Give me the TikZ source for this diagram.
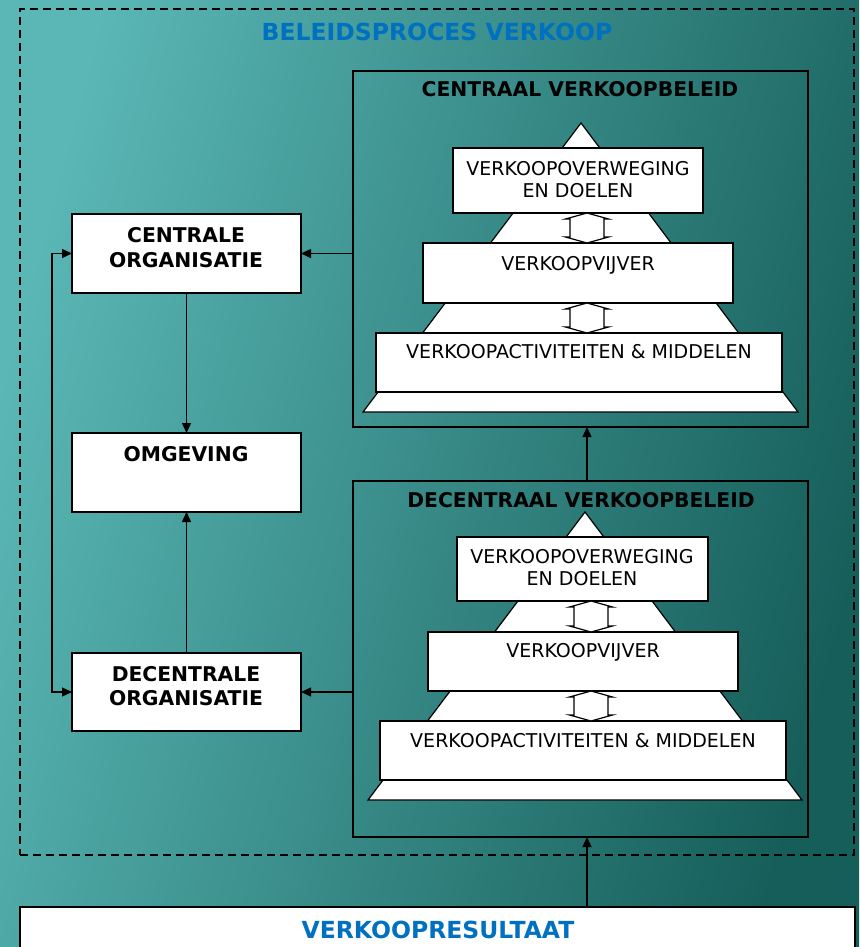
\documentclass[tikz,border=0pt]{standalone}
\usepackage{fontspec}
\setmainfont{DejaVu Sans}
\usetikzlibrary{arrows.meta}
\definecolor{bglight}{RGB}{90,183,181}
\definecolor{bgdark}{RGB}{22,94,90}
\definecolor{titleblue}{RGB}{0,112,192}
\newcommand{\dblarr}[2]{%
  \draw[dblarrow] #1 -- ++(21.5,6) -- ++(-4.5,0) -- ++(0,#2) -- ++(4.5,0) -- ++(-21.5,6)
     -- ++(-21.5,-6) -- ++(4.5,0) -- ++(0,-#2) -- ++(-4.5,0) -- cycle;}
\begin{document}
\begin{tikzpicture}[x=1pt,y=-1pt,
  box/.style={draw=black, fill=white, line width=1.3pt, inner sep=0pt, outer sep=0pt},
  frame/.style={draw=black, line width=1.3pt, inner sep=0pt, outer sep=0pt},
  conn/.style={draw=black, line width=1.4pt, -{Triangle[length=10pt,width=9pt]}},
  bconn/.style={draw=black, line width=1.4pt, {Triangle[length=10pt,width=9pt]}-{Triangle[length=10pt,width=9pt]}},
  bt/.style={font=\fontsize{20.3}{24}\selectfont\bfseries, anchor=base, inner sep=0pt},
  rt/.style={font=\fontsize{19}{22}\selectfont, anchor=base, inner sep=0pt},
  blt/.style={font=\fontsize{23.5}{28}\selectfont\bfseries, text=titleblue, anchor=base, inner sep=0pt},
  pyr/.style={draw=black, fill=white, line width=1.2pt},
  dblarrow/.style={draw=black, fill=white, line width=1.2pt, line join=miter}
]
\useasboundingbox (0,0) rectangle (859,947);
\shade[left color=bglight, right color=bgdark, shading angle=75] (0,0) rectangle (859,947);

% outer dashed frame
\node[frame, dash pattern=on 8pt off 5pt, line width=1.4pt, minimum width=834pt, minimum height=846pt] (outer) at (437,432) {};
\node[blt] (ttl) at (437,41) {BELEIDSPROCES VERKOOP};

% left boxes
\node[box, minimum width=229pt, minimum height=79pt] (co) at (186.5,253.5) {};
\node[box, minimum width=229pt, minimum height=79pt] (om) at (186.5,472.5) {};
\node[box, minimum width=229pt, minimum height=78pt] (do) at (186.5,692) {};
\node[bt] (cot1) at (186,242) {CENTRALE};
\node[bt] (cot2) at (186,267) {ORGANISATIE};
\node[bt] (omt) at (186,461) {OMGEVING};
\node[bt] (dot1) at (186,681) {DECENTRALE};
\node[bt] (dot2) at (186,705) {ORGANISATIE};

% policy frames
\node[frame, minimum width=455pt, minimum height=356pt] (cvb) at (580.5,249) {};
\node[frame, minimum width=455pt, minimum height=356pt] (dvb) at (580.5,659) {};
\node[bt] (cvbt) at (580,97) {CENTRAAL VERKOOPBELEID};
\node[bt] (dvbt) at (581,507) {DECENTRAAL VERKOOPBELEID};

% result box
\node[box, minimum width=835pt, minimum height=60pt] (vr) at (437.5,937) {};
\node[blt] (vrt) at (438,938) {VERKOOPRESULTAAT};

% central pyramid
\draw[pyr] (581,123) -- (798,412) -- (363,412) -- cycle;
\node[box, minimum width=250pt, minimum height=65pt] (c1) at (578,180.5) {};
\node[box, minimum width=310pt, minimum height=60pt] (c2) at (578,273) {};
\node[box, minimum width=406pt, minimum height=59pt] (c3) at (579,362.5) {};
\node[rt] (c1t1) at (578,175) {VERKOOPOVERWEGING};
\node[rt] (c1t2) at (578,197) {EN DOELEN};
\node[rt] (c2t) at (578,270) {VERKOOPVIJVER};
\node[rt] (c3t) at (579,358) {VERKOOPACTIVITEITEN \& MIDDELEN};
\dblarr{([xshift=9pt]c1.south)}{18}
\dblarr{([xshift=9pt]c2.south)}{18}

% decentral pyramid
\draw[pyr] (585,512) -- (802,800) -- (368,800) -- cycle;
\node[box, minimum width=251pt, minimum height=64pt] (d1) at (582.5,569) {};
\node[box, minimum width=310pt, minimum height=59pt] (d2) at (583,661.5) {};
\node[box, minimum width=406pt, minimum height=59pt] (d3) at (583,750.5) {};
\node[rt] (d1t1) at (582,563) {VERKOOPOVERWEGING};
\node[rt] (d1t2) at (582,585) {EN DOELEN};
\node[rt] (d2t) at (583,657) {VERKOOPVIJVER};
\node[rt] (d3t) at (583,747) {VERKOOPACTIVITEITEN \& MIDDELEN};
\dblarr{([xshift=8.5pt]d1.south)}{19}
\dblarr{([xshift=8pt]d2.south)}{18}

% connectors
\coordinate (axis) at (587,0);
\draw[conn] (cvb.west |- co.east) -- (co.east);
\draw[conn] (dvb.west |- do.east) -- (do.east);
\draw[conn] (co.south) -- (om.north);
\draw[conn] (do.north) -- (om.south);
\draw[conn] (dvb.north -| axis) -- (cvb.south -| axis);
\draw[conn] (vr.north -| axis) -- (dvb.south -| axis);
\draw[bconn] (co.west) -- ++(-20,0) |- (do.west);
\end{tikzpicture}
\end{document}
